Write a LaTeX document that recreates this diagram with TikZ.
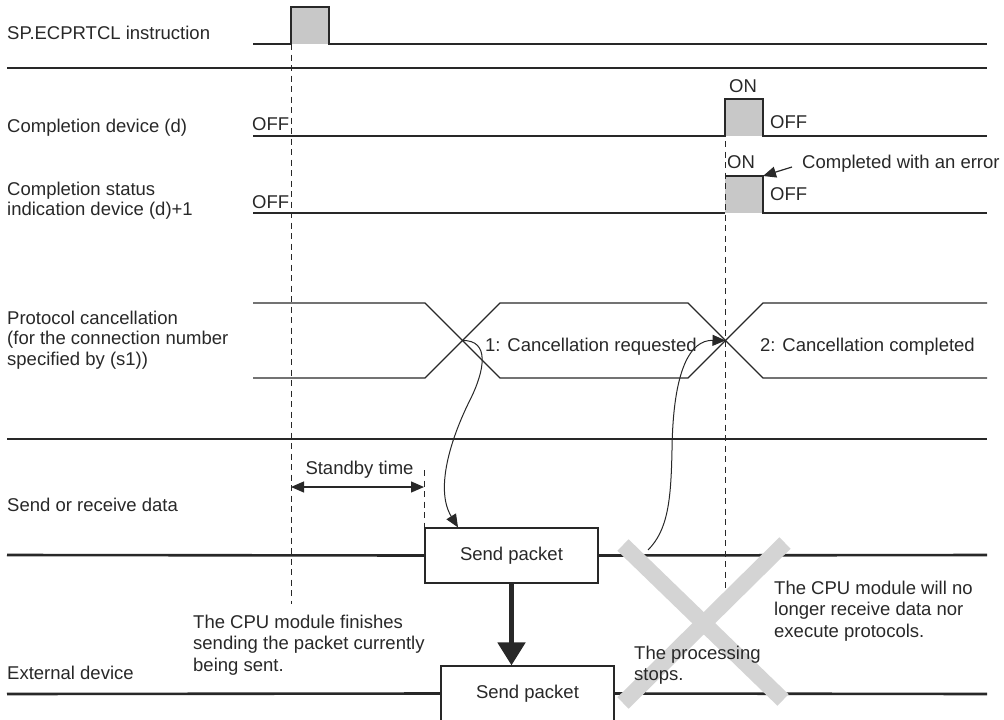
\documentclass[tikz,border=0pt]{standalone}
\usepackage{fontspec}
\setmainfont{Liberation Sans}
\usepackage{xcolor}
\usetikzlibrary{positioning, arrows.meta, calc}

\definecolor{pulsegray}{RGB}{200,200,200}
\definecolor{crossgray}{RGB}{212,212,212}
\definecolor{inkgray}{RGB}{40,40,40}

\begin{document}
\begin{tikzpicture}[
        x=1pt, y=-1pt,
        >={Triangle[length=13pt, width=11pt]},
        font=\fontsize{18.5}{21.5}\selectfont,
        every node/.style={text=inkgray},
        % thin signal traces
        signal/.style={draw=inkgray, line width=1.2pt},
        % heavy separator / channel lines
        bar/.style={draw=inkgray, line width=2.6pt},
        guide/.style={draw=inkgray, line width=1pt, dash pattern=on 6pt off 4.5pt},
        tag/.style={anchor=base west, inner sep=0pt},
        note/.style={anchor=north west, inner sep=0pt, align=left},
        packet/.style={draw=inkgray, line width=1.2pt, fill=white,
            minimum width=173pt, minimum height=55pt, inner sep=0pt},
        cross/.style={draw=crossgray, line width=16pt}
    ]

    \useasboundingbox (0,0) rectangle (1004,720);
    \clip (0,0) rectangle (1004,720);

    % --- Row labels ---
    \node[tag] (lInstr) at (7,39) {SP.ECPRTCL instruction};
    \node[tag] (lDone) at (7,132) {Completion device (d)};
    \node[note, font=\fontsize{18.5}{19.5}\selectfont] (lStat) at (7,182) {Completion status\\indication device (d)+1};
    \node[note, font=\fontsize{18.5}{20.5}\selectfont] (lProt) at (7,310.5) {Protocol cancellation\\(for the connection number\\specified by (s1))};
    \node[tag] (lSend) at (7,511) {Send or receive data};
    \node[tag] (lExt) at (7,679) {External device};

    % --- Separators ---
    \draw[bar] (7,68) -- (987,68);
    \draw[bar] (7,439) -- (987,439);

    % --- Pulses ---
    \fill[pulsegray] (291,7) rectangle (329,44);
    \draw[signal] (253,44) -- (291,44) -- (291,7) -- (329,7) -- (329,44) -- (987,44);

    \fill[pulsegray] (725,99) rectangle (763,136);
    \draw[signal] (253,136) -- (725,136) -- (725,99) -- (763,99) -- (763,136) -- (987,136);

    \fill[pulsegray] (725,176) rectangle (763,213);
    \coordinate (stTopR) at (763,176);
    \draw[signal] (253,213) -- (725,213) (725,176) -- (stTopR) -- (763,213) -- (987,213);

    \node[tag] (offA) at (252,130) {OFF};
    \node[tag] (onA) at (729,92) {ON};
    \node[tag] (offB) at (770,128) {OFF};
    \node[tag] (offC) at (252,208) {OFF};
    \node[tag] (onC) at (727,168) {ON};
    \node[tag] (offD) at (770,200) {OFF};

    \node[tag] (err) at (802,168) {Completed with an error};
    \coordinate (errTail) at (792,167);
    \draw[signal, ->] (errTail) -- (stTopR);

    % --- Protocol cancellation bus ---
    \draw[signal] (253,303) -- (425,303) -- (500,378) -- (688,378) -- (763,303) -- (987,303);
    \draw[signal] (253,378) -- (425,378) -- (500,303) -- (688,303) -- (763,378) -- (987,378);
    \coordinate (x1) at (462.5,340.5);
    \coordinate (x2) at (725.5,340.5);

    \node[tag] (req) at (485,351) {1: Cancellation requested};
    \node[tag] (cmp) at (760,351) {2: Cancellation completed};

    % --- Packets ---
    \node[packet] (p1) at (511.5,555.5) {Send packet};
    \node[packet] (p2) at (527.5,693.5) {Send packet};

    \draw[bar] (7,555) -- (p1.west);
    \draw[bar] (p1.east) -- (987,555);
    \draw[bar] (7,694) -- (p2.west);
    \draw[bar] (p2.east) -- (987,694);

    \draw[draw=inkgray, line width=5pt, -{Triangle[length=23pt, width=27pt]}]
        (p1.south) -- (p1.south |- p2.north);

    % --- Guides ---
    \draw[guide] (291,44) -- (291,604);
    \draw[guide] (725,99) -- (725,588);
    \coordinate (sbTop) at (424,470);
    \draw[guide] (sbTop) -- (sbTop |- p1.north);

    \coordinate (sbL) at (291,487);
    \coordinate (sbR) at (424,487);
    \draw[signal, <->] (sbL) -- (sbR);
    \node[anchor=base, inner sep=0pt] (sbT) at (359.5,474) {Standby time};

    % --- Curved arrows ---
    \coordinate (c2src) at (648,550);
    \draw[signal, line width=1pt, ->] (x1)
        .. controls (490,340) and (485,370) .. (470,400)
        .. controls (450,440) and (435,490) .. ([xshift=-53.5pt]p1.north);
    \draw[signal, line width=1pt, ->] (c2src)
        .. controls (668,530) and (671,500) .. (672,450)
        .. controls (673,370) and (690,340) .. (x2);

    % --- Stop cross ---
    \draw[cross] (623,545) -- (783,700);
    \draw[cross] (785,543) -- (623,703);

    % --- Notes ---
    \node[note] (nFin) at (193,614.5) {The CPU module finishes\\sending the packet currently\\being sent.};
    \node[note] (nStop) at (634,645.5) {The processing\\stops.};
    \node[note] (nNoRx) at (774,580.5) {The CPU module will no\\longer receive data nor\\execute protocols.};

\end{tikzpicture}
\end{document}
